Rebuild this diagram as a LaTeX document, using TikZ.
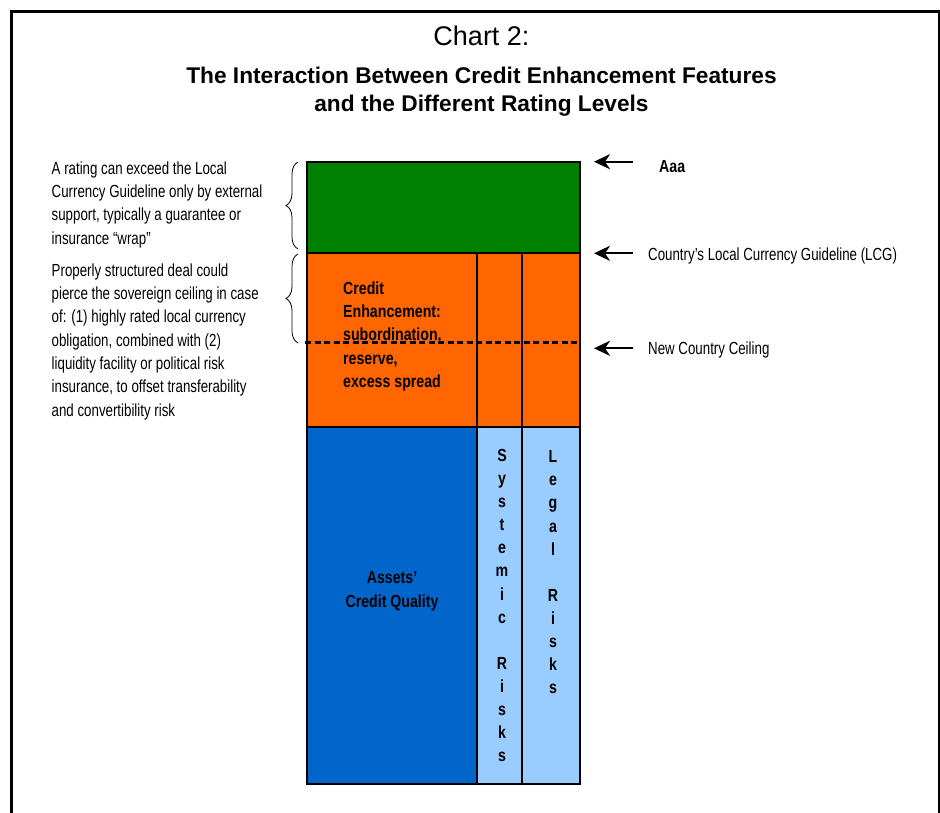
\documentclass[tikz,border=0pt]{standalone}
\usepackage{fontspec}
\setmainfont{Liberation Sans}
\newfontfamily\condr[FakeStretch=0.76]{Liberation Sans}
\newfontfamily\condb[FakeStretch=0.81]{Liberation Sans Bold}
\usetikzlibrary{arrows.meta,decorations.pathreplacing}
\definecolor{cgreen}{RGB}{0,128,0}
\definecolor{corange}{RGB}{255,102,0}
\definecolor{cblue}{RGB}{0,102,204}
\definecolor{clight}{RGB}{153,204,255}
\tikzset{
  band/.style={draw=black, line width=1.4pt, inner sep=0pt, outer sep=0pt, anchor=north west},
  note/.style={inner sep=0pt, anchor=north west, align=left, font=\condr\fontsize{17.5}{23.3}\selectfont},
  boxtext/.style={inner sep=0pt, align=left, font=\condb\fontsize{17.5}{23.3}\selectfont},
  colletters/.style={inner sep=0pt, anchor=north, align=center, font=\condb\fontsize{17.5}{23.1}\selectfont},
  lbl/.style={inner sep=0pt, anchor=base west, font=\condr\fontsize{17.5}{20}\selectfont},
  pointer/.style={line width=2pt, -{Stealth[length=16pt,width=15pt,inset=5pt]}},
  bracestyle/.style={line width=0.8pt, decorate, decoration={brace, amplitude=12pt}},
  divider/.style={line width=1.4pt}
}
\begin{document}
\begin{tikzpicture}[x=1pt,y=-1pt]
\useasboundingbox (0,0) rectangle (940,812);
% outer frame
\draw[line width=3pt] (11,830) -- (11,11) -- (939,11) -- (939,830);
% titles
\node[inner sep=0pt, anchor=base] (chart) at (481.5,45.7) {\fontsize{27}{30}\selectfont Chart 2:};
\node[inner sep=0pt, anchor=north, align=center, font=\bfseries\fontsize{22.7}{28}\selectfont] (title) at (481.5,66.8)
  {The Interaction Between Credit Enhancement Features\\and the Different Rating Levels};
% bands
\node[band, fill=cgreen, minimum width=273pt, minimum height=91pt] (green) at (307,162) {};
\node[band, fill=corange, minimum width=273pt, minimum height=174pt] (orange) at (307,253) {};
\node[band, fill=cblue, minimum width=170pt, minimum height=357pt] (assets) at (307,427) {};
\node[band, fill=clight, minimum width=45pt, minimum height=357pt] (sys) at (477,427) {};
\node[band, fill=clight, minimum width=58pt, minimum height=357pt] (legal) at (522,427) {};
\draw[divider] (sys.north west |- orange.north) -- (sys.north west);
\draw[divider] (legal.north west |- orange.north) -- (legal.north west);
% dashed new ceiling
\coordinate (dashL) at (305,342.5);
\coordinate (dashR) at (580,342.5);
\draw[line width=2.2pt, dash pattern=on 6pt off 3.5pt] (dashL) -- (dashR);
% box texts
\node[boxtext, anchor=north west] (ce) at (343,281.5)
  {Credit\\Enhancement:\\subordination,\\reserve,\\excess spread};
\node[boxtext, anchor=north, align=center] (acq) at (392,571.5) {Assets’\\Credit Quality};
\node[colletters] (syst) at (502,449) {S\\y\\s\\t\\e\\m\\i\\c\\\mbox{}\\R\\i\\s\\k\\s};
\node[colletters] (legt) at (553,450.5) {L\\e\\g\\a\\l\\\mbox{}\\R\\i\\s\\k\\s};
% left notes
\node[note] (n1) at (51.5,161.5)
  {A rating can exceed the Local\\Currency Guideline only by external\\support, typically a guarantee or\\insurance “wrap”};
\node[note] (n2) at (51.5,263.5)
  {Properly structured deal could\\pierce the sovereign ceiling in case\\of: (1) highly rated local currency\\obligation, combined with (2)\\liquidity facility or political risk\\insurance, to offset transferability\\and convertibility risk};
% braces
\coordinate (b1a) at (298,249);
\coordinate (b1b) at (298,162);
\coordinate (b2a) at (298,343);
\coordinate (b2b) at (298,254);
\draw[bracestyle] (b1a) -- (b1b);
\draw[bracestyle] (b2a) -- (b2b);
% right labels and pointers
\node[lbl, font=\condb\fontsize{17.5}{20}\selectfont] (aaa) at (659,172.3) {Aaa};
\node[lbl] (lcg) at (648,260) {Country’s Local Currency Guideline (LCG)};
\node[lbl] (ncc) at (648,354.3) {New Country Ceiling};
\coordinate (t1) at (633,161.7); \coordinate (h1) at (594,161.7);
\coordinate (t2) at (633,253.3); \coordinate (h2) at (594,253.3);
\coordinate (t3) at (633,348.3); \coordinate (h3) at (594,348.3);
\draw[pointer] (t1) -- (h1);
\draw[pointer] (t2) -- (h2);
\draw[pointer] (t3) -- (h3);
\end{tikzpicture}
\end{document}
